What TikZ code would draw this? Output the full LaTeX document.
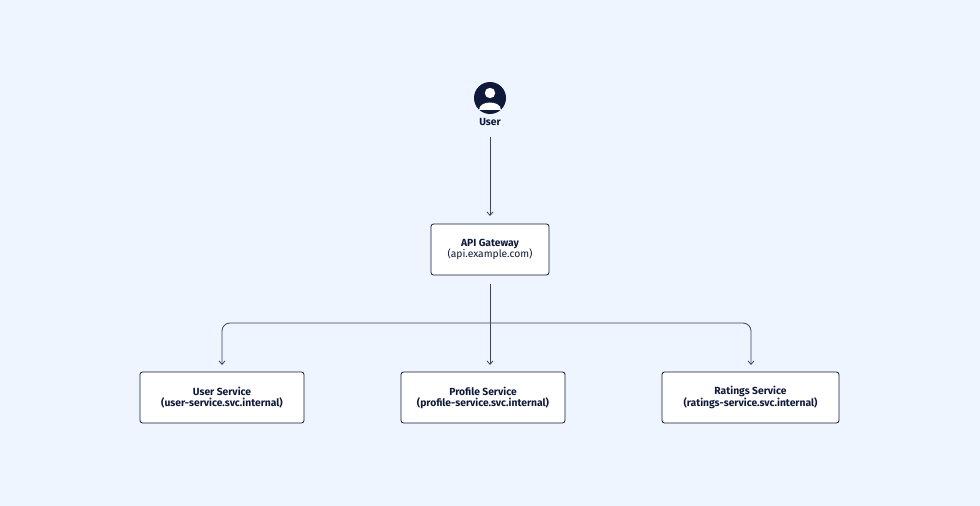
\documentclass[tikz,border=0pt]{standalone}
\usepackage{fontspec}
\setmainfont{Fira Sans}
\usetikzlibrary{arrows.meta}
\definecolor{bg}{HTML}{EEF5FE}
\definecolor{ink}{HTML}{0F1A3A}
\definecolor{wire}{HTML}{3A4560}
\begin{document}
\begin{tikzpicture}[x=1pt,y=-1pt,
  box/.style={draw=ink,fill=white,rounded corners=2.5pt,line width=0.8pt,align=center,font=\fontsize{10.3}{11}\selectfont,text=ink,inner sep=0pt},
  conn/.style={draw=wire,line width=0.8pt,-{Straight Barb[length=3.5pt,width=6pt]}}]
\fill[bg] (0,0) rectangle (980,506);
\useasboundingbox (0,0) rectangle (980,506);
\node[circle,fill=ink,minimum size=32pt,inner sep=0pt] (icon) at (490,98) {};
\fill[white] (490,93) circle (5.2);
\begin{scope}
\clip (490,98) circle (16);
\fill[white] (479,110) .. controls (479,100) and (501,100) .. (501,110) -- cycle;
\end{scope}
\node[font=\fontsize{10.3}{11}\selectfont\bfseries,text=ink] (user) at (490,122) {User};
\node[box,minimum width=118pt,minimum height=51pt] (gw) at (490,249.5) {\textbf{API Gateway}\\(api.example.com)};
\node[box,minimum width=164pt,minimum height=51pt] (us) at (222,397.5) {\textbf{User Service}\\\textbf{(user-service.svc.internal)}};
\node[box,minimum width=164pt,minimum height=51pt] (ps) at (483,397.5) {\textbf{Profile Service}\\\textbf{(profile-service.svc.internal)}};
\node[box,minimum width=177pt,minimum height=51pt] (rs) at (750.5,397.5) {\textbf{Ratings Service}\\\textbf{(ratings-service.svc.internal)}};
\coordinate (split) at (490,323);
\draw[conn] (490,137) -- (490,216);
\draw[draw=wire,line width=0.8pt] (490,284) -- (split);
\draw[conn] (split) -- (490,365);
\draw[conn,rounded corners=8pt] (split) -- (222,323) -- (222,365);
\draw[conn,rounded corners=8pt] (split) -- (751,323) -- (751,365);
\end{tikzpicture}
\end{document}
